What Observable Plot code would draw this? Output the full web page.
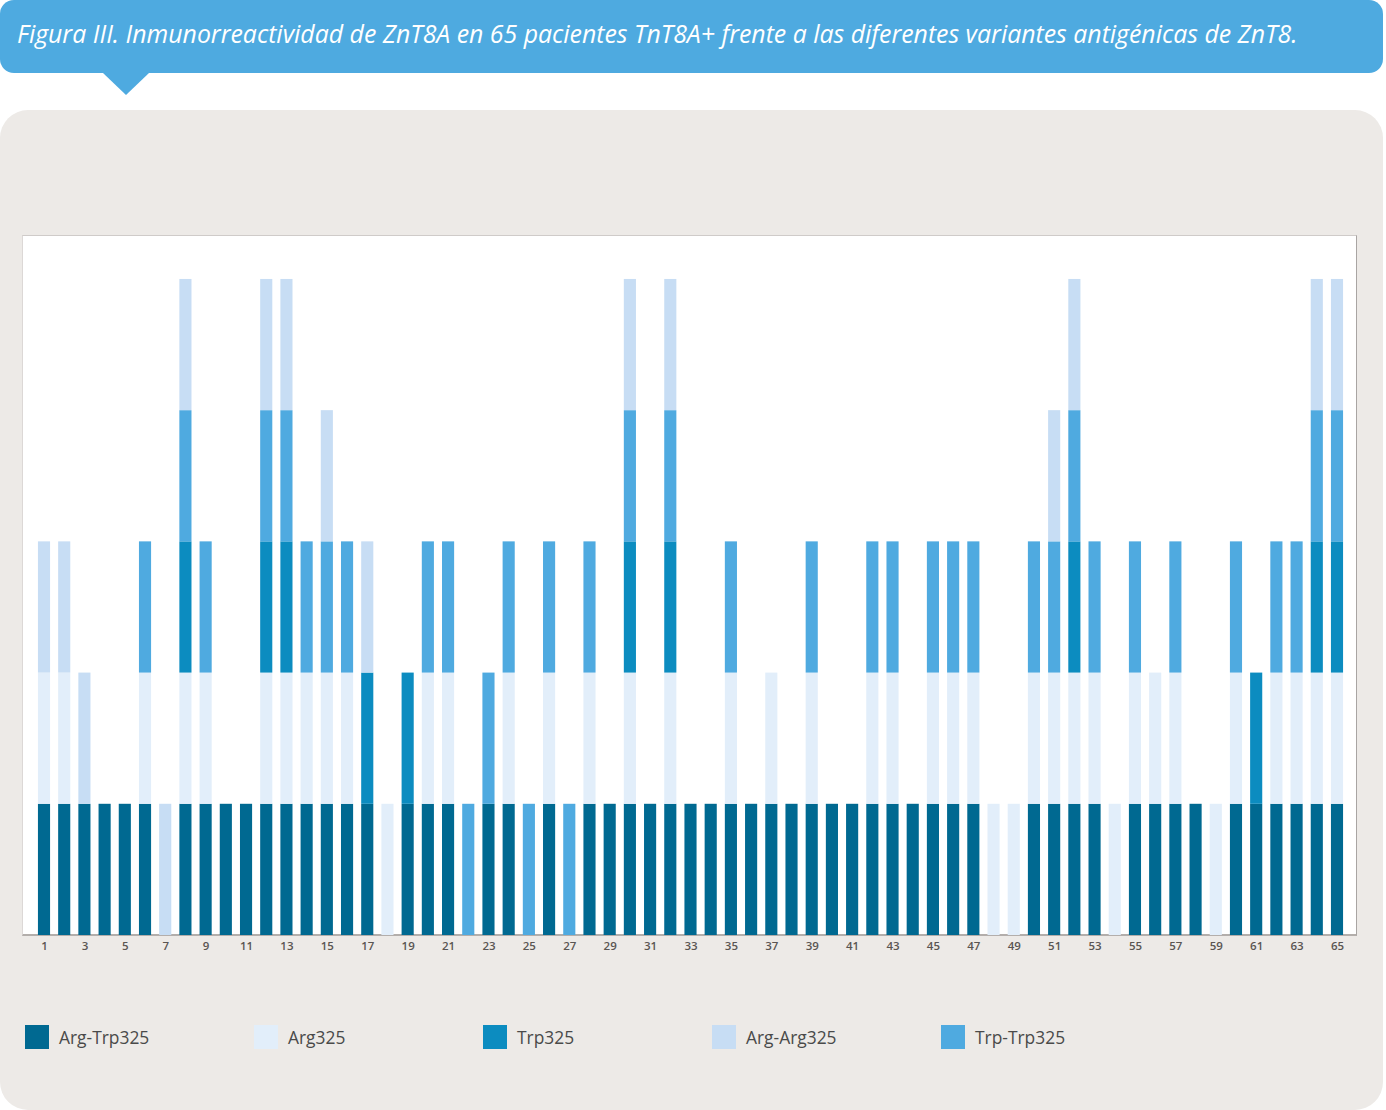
<!DOCTYPE html>
<html>
<head>
<meta charset="utf-8">
<script src="https://cdn.jsdelivr.net/npm/d3@7"></script>
<script src="https://cdn.jsdelivr.net/npm/@observablehq/plot@0.6"></script>
<style>
  html, body { margin: 0; padding: 0; }
  body { width: 1386px; height: 1110px; position: relative; overflow: hidden; background: #ffffff; font-family: "Open Sans", sans-serif; }
  #banner { position: absolute; left: 0; top: 0; width: 1383px; height: 73px; background: #4eaae0; border-radius: 14px; }
  #pointer { position: absolute; left: 103px; top: 73px; width: 0; height: 0; border-left: 23px solid transparent; border-right: 23px solid transparent; border-top: 22px solid #4eaae0; }
  #title { position: absolute; left: 17px; top: 15px; color: #ffffff; font-style: italic; font-size: 24.85px; line-height: 36px; white-space: nowrap; }
  #panel { position: absolute; left: 0; top: 110px; width: 1383px; height: 1000px; background: #edeae7; border-radius: 28px; }
  #frame { position: absolute; left: 22px; top: 235px; width: 1333px; height: 698px; background: #ffffff; border-top: 1px solid #cfcbc9; border-left: 1px solid #dcd8d6; border-right: 1px solid #a9a5a3; border-bottom: 2px solid #b3aeab; }
  #chart { position: absolute; left: 0; top: 200px; }
  #legend { position: absolute; left: 25px; top: 1025px; display: flex; }
  .item { display: flex; align-items: center; width: 229px; }
  .sw { width: 24px; height: 24px; margin-right: 10px; }
  .lab { font-size: 17.4px; color: #4a4a4a; line-height: 24px; }
</style>
</head>
<body>
<div id="banner"></div>
<div id="pointer"></div>
<div id="title">Figura III. Inmunorreactividad de ZnT8A en 65 pacientes TnT8A+ frente a las diferentes variantes antigénicas de ZnT8.</div>
<div id="panel"></div>
<div id="frame"></div>
<div id="chart"></div>
<div id="legend"></div>
<script>
// Patients (categories)
const patients = [1,2,3,4,5,6,7,8,9,10,11,12,13,14,15,16,17,18,19,20,21,22,23,24,25,26,27,28,29,30,31,32,33,34,35,36,37,38,39,40,41,42,43,44,45,46,47,48,49,50,51,52,53,54,55,56,57,58,59,60,61,62,63,64,65];

// Tick labels shown on the x axis
const tickLabels = [1,3,5,7,9,11,13,15,17,19,21,23,25,27,29,31,33,35,37,39,41,43,45,47,49,51,53,55,57,59,61,63,65];

// Series names (stack order bottom -> top) and legend order
const stackOrder = ["Arg-Trp325", "Arg325", "Trp325", "Trp-Trp325", "Arg-Arg325"];
const legendOrder = ["Arg-Trp325", "Arg325", "Trp325", "Arg-Arg325", "Trp-Trp325"];

// Reactivity per patient (1 = positive) for each antigenic variant
const argTrp325 = [1,1,1,1,1,1,0,1,1,1, 1,1,1,1,1,1,1,0,1,1, 1,0,1,1,0,1,0,1,1,1, 1,1,1,1,1,1,1,1,1,1, 1,1,1,1,1,1,1,0,0,1, 1,1,1,0,1,1,1,1,0,1, 1,1,1,1,1];
const arg325    = [1,1,0,0,0,1,0,1,1,0, 0,1,1,1,1,1,0,1,0,1, 1,0,0,1,0,1,0,1,0,1, 0,1,0,0,1,0,1,0,1,0, 0,1,1,0,1,1,1,1,1,1, 1,1,1,1,1,1,1,0,1,1, 0,1,1,1,1];
const trp325    = [0,0,0,0,0,0,0,1,0,0, 0,1,1,0,0,0,1,0,1,0, 0,0,0,0,0,0,0,0,0,1, 0,1,0,0,0,0,0,0,0,0, 0,0,0,0,0,0,0,0,0,0, 0,1,0,0,0,0,0,0,0,0, 1,0,0,1,1];
const trpTrp325 = [0,0,0,0,0,1,0,1,1,0, 0,1,1,1,1,1,0,0,0,1, 1,1,1,1,1,1,1,1,0,1, 0,1,0,0,1,0,0,0,1,0, 0,1,1,0,1,1,1,0,0,1, 1,1,1,0,1,0,1,0,0,1, 0,1,1,1,1];
const argArg325 = [1,1,1,0,0,0,1,1,0,0, 0,1,1,0,1,0,1,0,0,0, 0,0,0,0,0,0,0,0,0,1, 0,1,0,0,0,0,0,0,0,0, 0,0,0,0,0,0,0,0,0,0, 1,1,0,0,0,0,0,0,0,0, 0,0,0,1,1];

// Colours per series
const seriesColors = {
  "Arg-Trp325": "#006991",
  "Arg325": "#e2eefa",
  "Trp325": "#0c8cc0",
  "Arg-Arg325": "#c7ddf4",
  "Trp-Trp325": "#4faae0"
};

const seriesValues = {
  "Arg-Trp325": argTrp325,
  "Arg325": arg325,
  "Trp325": trp325,
  "Trp-Trp325": trpTrp325,
  "Arg-Arg325": argArg325
};

const rows = [];
patients.forEach((p, i) => {
  stackOrder.forEach(s => rows.push({patient: p, series: s, value: seriesValues[s][i]}));
});

const chart = Plot.plot({
  width: 1386,
  height: 770,
  marginTop: 35,
  marginBottom: 35,
  marginLeft: 33.9,
  marginRight: 38.9,
  style: {background: "transparent", overflow: "visible"},
  x: {type: "band", domain: patients, paddingInner: 0.4, paddingOuter: 0.2, round: false, label: null},
  y: {domain: [0, 5.335], axis: null},
  color: {domain: stackOrder, range: stackOrder.map(s => seriesColors[s])},
  marks: [
    Plot.barY(rows, {x: "patient", y: "value", fill: "series", order: stackOrder}),
    Plot.axisX({ticks: tickLabels, tickSize: 0, tickPadding: 6, fontSize: 11.5, fontWeight: 600, fill: "#5a5552", fontFamily: "Open Sans", label: null})
  ]
});
document.getElementById("chart").appendChild(chart);

const legend = document.getElementById("legend");
legendOrder.forEach(s => {
  const it = document.createElement("div");
  it.className = "item";
  const sw = document.createElement("div");
  sw.className = "sw";
  sw.style.background = seriesColors[s];
  const lab = document.createElement("div");
  lab.className = "lab";
  lab.textContent = s;
  it.appendChild(sw);
  it.appendChild(lab);
  legend.appendChild(it);
});
</script>
</body>
</html>
